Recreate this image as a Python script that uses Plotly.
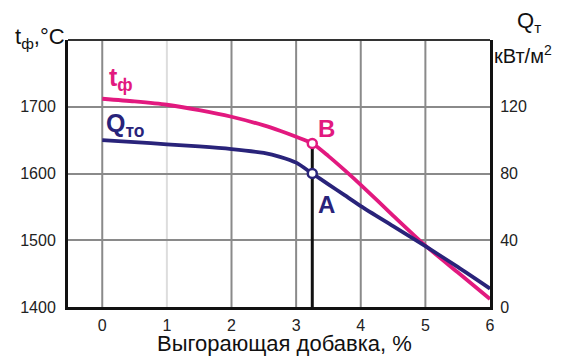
import plotly.graph_objects as go

# Burnable additive content, %
additive = [0, 0.5, 1, 1.5, 2, 2.5, 2.75, 3, 3.25, 3.5, 3.75, 4, 4.5, 5, 5.5, 6]
# Flame temperature t_ф, °C (left axis)
t_flame = [1712, 1708, 1703, 1695, 1685, 1672, 1664, 1655, 1645, 1626, 1605, 1583,
           1537, 1492, 1452, 1412]
# Heat flux Q_то, kW/m² (right axis)
q_flux = [100, 98.8, 97.5, 96.2, 94.6, 92.3, 90, 86.5, 80, 73.5, 67, 60.5, 48.5, 36.5, 24, 11]

# Operating point (A / B)
x_op = 3.25
t_op = 1645
q_op = 80

x_ticks = [0, 1, 2, 3, 4, 5, 6]
x_grid = [0, 1, 2, 3, 4, 5]
x_grid_colors = ["#8a8a8a", "#dddddd", "#8a8a8a", "#8a8a8a", "#8a8a8a", "#8a8a8a"]
t_ticks = [1400, 1500, 1600, 1700]
q_ticks = [0, 40, 80, 120]

MAGENTA = "#e2197f"
NAVY = "#29237a"
FONT = "Liberation Sans, Arial, sans-serif"

fig = go.Figure()

# vertical grid lines
for gx, gc in zip(x_grid, x_grid_colors):
    fig.add_shape(type="line", xref="x", yref="paper", x0=gx, x1=gx, y0=0, y1=1,
                  line=dict(color=gc, width=2), layer="below")

# drop line from B to the additive axis
fig.add_trace(go.Scatter(x=[x_op, x_op], y=[t_op, 1400], mode="lines",
                         line=dict(color="#111111", width=3), showlegend=False,
                         hoverinfo="skip"))

fig.add_trace(go.Scatter(x=additive, y=t_flame, mode="lines",
                         line=dict(color=MAGENTA, width=3.8, shape="spline", smoothing=0.7),
                         showlegend=False))
fig.add_trace(go.Scatter(x=additive, y=q_flux, mode="lines", yaxis="y2",
                         line=dict(color=NAVY, width=3.8, shape="spline", smoothing=0.7),
                         showlegend=False))

fig.add_trace(go.Scatter(x=[x_op], y=[t_op], mode="markers",
                         marker=dict(symbol="circle", size=9, color="white",
                                     line=dict(color=MAGENTA, width=2.5)),
                         showlegend=False))
fig.add_trace(go.Scatter(x=[x_op], y=[q_op], mode="markers", yaxis="y2",
                         marker=dict(symbol="circle", size=9, color="white",
                                     line=dict(color=NAVY, width=2.5)),
                         showlegend=False))

# top border
fig.add_shape(type="line", xref="paper", yref="paper", x0=0, x1=1, y0=1, y1=1,
              line=dict(color="#333333", width=2))

ann = []
ann.append(dict(x=0.08, y=1742, xref="x", yref="y", text="<b>t<sub>ф</sub></b>",
                showarrow=False, xanchor="left", yanchor="middle",
                font=dict(family=FONT, size=25, color=MAGENTA)))
ann.append(dict(x=0.03, y=1672, xref="x", yref="y", text="<b>Q<sub>то</sub></b>",
                showarrow=False, xanchor="left", yanchor="middle",
                font=dict(family=FONT, size=25, color=NAVY)))
ann.append(dict(x=x_op + 0.22, y=1668, xref="x", yref="y", text="<b>B</b>",
                showarrow=False, xanchor="center", yanchor="middle",
                font=dict(family=FONT, size=24, color=MAGENTA)))
ann.append(dict(x=x_op + 0.22, y=1553, xref="x", yref="y", text="<b>A</b>",
                showarrow=False, xanchor="center", yanchor="middle",
                font=dict(family=FONT, size=24, color=NAVY)))
ann.append(dict(x=-0.13, y=1.007, xref="paper", yref="paper", text="t<sub>ф</sub>,°C",
                showarrow=False, xanchor="left", yanchor="middle",
                font=dict(family=FONT, size=22, color="#111111")))
ann.append(dict(x=1.06, y=1.067, xref="paper", yref="paper", text="Q<sub>т</sub>",
                showarrow=False, xanchor="left", yanchor="middle",
                font=dict(family=FONT, size=22, color="#111111")))
ann.append(dict(x=1.005, y=0.944, xref="paper", yref="paper", text="кВт/м<sup>2</sup>",
                showarrow=False, xanchor="left", yanchor="middle",
                font=dict(family=FONT, size=20, color="#111111")))
# x-axis title
ann.append(dict(x=0.512, y=-0.19, xref="paper", yref="paper",
                text="Выгорающая добавка, %",
                showarrow=False, xanchor="center", yanchor="bottom",
                font=dict(family=FONT, size=22, color="#111111")))

fig.update_layout(
    width=572, height=358,
    margin=dict(l=68, r=82, t=40, b=51, autoexpand=False),
    paper_bgcolor="white", plot_bgcolor="white",
    font=dict(family=FONT, size=16, color="#222222"),
    annotations=ann,
    xaxis=dict(range=[-0.53, 6.0], tickvals=x_ticks, showgrid=False, zeroline=False,
               showline=True, linecolor="#111111", linewidth=3, ticks="",
               ticklabelstandoff=2, automargin=False),
    yaxis=dict(range=[1400, 1800], tickvals=t_ticks, showgrid=True,
               gridcolor="#8a8a8a", gridwidth=2, zeroline=False, automargin=False,
               showline=True, linecolor="#111111", linewidth=3, ticks="",
               ticklabelstandoff=6),
    yaxis2=dict(range=[0, 160], tickvals=q_ticks, overlaying="y", side="right",
                showgrid=False, zeroline=False, showline=True, automargin=False,
                linecolor="#111111", linewidth=3, ticks="", ticklabelstandoff=4),
)

fig.write_html("out.html")
